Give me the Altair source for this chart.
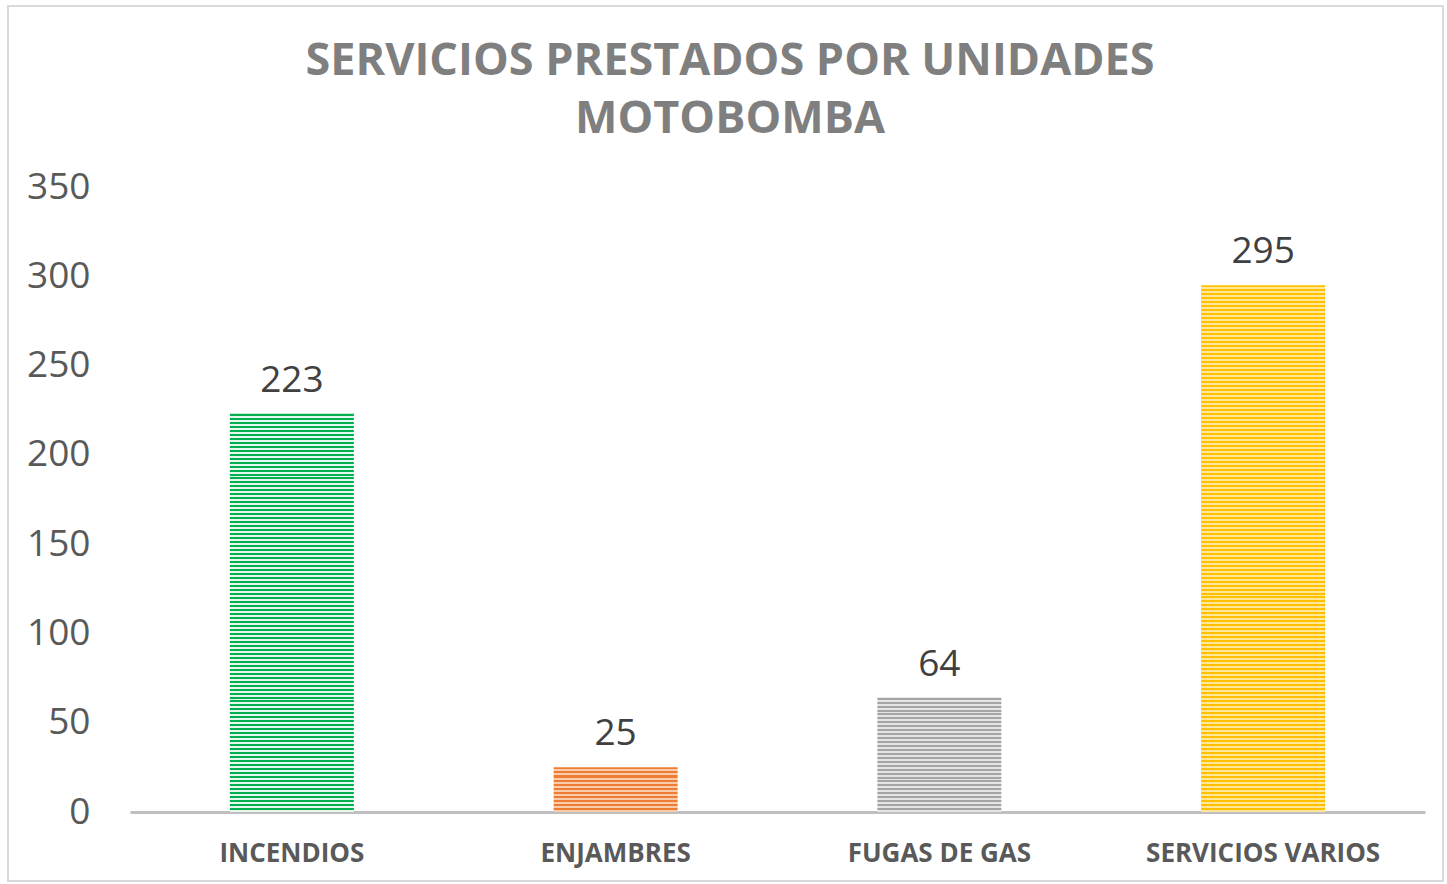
import altair as alt
import pandas as pd

categories = ["INCENDIOS", "ENJAMBRES", "FUGAS DE GAS", "SERVICIOS VARIOS"]
values = [223, 25, 64, 295]
dark_colors = ["#00B050", "#ED7D31", "#A5A5A5", "#FFC000"]
light_colors = ["#E6F7EE", "#F8CBAD", "#E4E4E4", "#FFE699"]
y_ticks = [0, 50, 100, 150, 200, 250, 300, 350]
title_lines = ["SERVICIOS PRESTADOS POR UNIDADES", "MOTOBOMBA"]

df = pd.DataFrame({"cat": categories, "val": values})

W, H = 1295, 625
YMAX = 350
STRIPE_PX = 4.0


def stripe_gradient(value, dark, light):
    h = value / YMAX * H
    n = max(1, int(round(h / STRIPE_PX)))
    stops = []
    for i in range(n):
        a = i / n
        m = (i + 0.5) / n
        b = (i + 1) / n
        stops += [
            alt.GradientStop(offset=a, color=dark),
            alt.GradientStop(offset=m, color=dark),
            alt.GradientStop(offset=m, color=light),
            alt.GradientStop(offset=b, color=light),
        ]
    return alt.LinearGradient(gradient="linear", stops=stops, x1=0, x2=0, y1=0, y2=1)


x_enc = alt.X(
    "cat:N",
    sort=categories,
    scale=alt.Scale(paddingInner=0.617, paddingOuter=0.3085),
    axis=alt.Axis(
        title=None,
        labelAngle=0,
        ticks=False,
        domainColor="#BFBFBF",
        domainWidth=3,
        labelFont="Open Sans",
        labelFontWeight="bold",
        labelFontSize=26,
        labelColor="#595959",
        labelPadding=28,
        labelLimit=0,
    ),
)
y_enc = alt.Y(
    "val:Q",
    scale=alt.Scale(domain=[0, YMAX], nice=False),
    axis=alt.Axis(
        title=None,
        values=y_ticks,
        domain=False,
        ticks=False,
        grid=False,
        labelFont="Open Sans",
        labelFontSize=37,
        labelColor="#595959",
        labelPadding=40,
    ),
)

base = alt.Chart(df)
layers = []
for c, v, d, l in zip(categories, values, dark_colors, light_colors):
    layers.append(
        base.transform_filter(alt.datum.cat == c)
        .mark_bar(color=stripe_gradient(v, d, l))
        .encode(x=x_enc, y=y_enc)
    )

labels = base.mark_text(
    font="Open Sans", fontSize=37, color="#404040", baseline="alphabetic", dy=-22
).encode(x=alt.X("cat:N", sort=categories), y="val:Q", text="val:Q")

one_row = alt.Data(values=[{"a": 1}])

border = alt.Chart(one_row).mark_rect(
    fill="transparent", stroke="#D9D9D9", strokeWidth=2
).encode(
    x=alt.value(-122), x2=alt.value(1313), y=alt.value(-181), y2=alt.value(694)
)

title = alt.Chart(one_row).mark_text(
    font="Open Sans",
    fontSize=45,
    fontWeight="bold",
    color="#7F7F7F",
    lineHeight=58,
    align="center",
    baseline="alphabetic",
).encode(
    x=alt.value(600), y=alt.value(-112), text=alt.value(title_lines)
)

chart = (
    alt.layer(border, title, *layers, labels)
    .properties(
        width=W,
        height=H,
        padding={"left": 130, "top": 187, "right": 22, "bottom": 72},
        autosize=alt.AutoSizeParams(type="none"),
        view=alt.ViewBackground(stroke=None, strokeWidth=0),
    )
    .configure_view(strokeWidth=0, stroke=None)
    .configure(background="white")
)

chart.save("out.html", embed_options={"renderer": "svg", "actions": False})
